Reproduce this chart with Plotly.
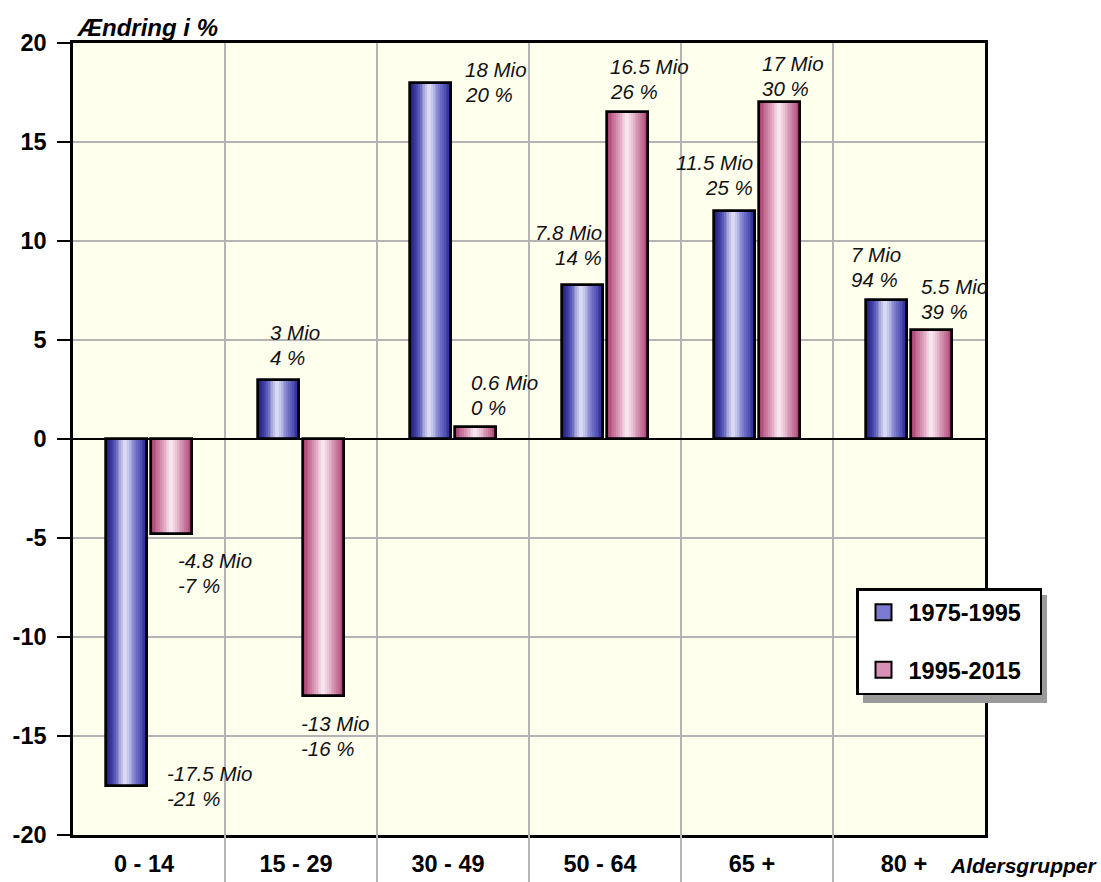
import plotly.graph_objects as go

# ---------------- data ----------------
categories = ["0 - 14", "15 - 29", "30 - 49", "50 - 64", "65 +", "80 +"]
series_names = ["1975-1995", "1995-2015"]
change_1975_1995 = [-17.5, 3, 18, 7.8, 11.5, 7]
change_1995_2015 = [-4.8, -13, 0.6, 16.5, 17, 5.5]
pct_1975_1995 = ["-21 %", "4 %", "20 %", "14 %", "25 %", "94 %"]
pct_1995_2015 = ["-7 %", "-16 %", "0 %", "26 %", "30 %", "39 %"]
y_ticks = [-20, -15, -10, -5, 0, 5, 10, 15, 20]
y_title = "Ændring i %"
x_title = "Aldersgrupper"

values = [change_1975_1995, change_1995_2015]
pcts = [pct_1975_1995, pct_1995_2015]

# ---------------- style ----------------
FONT = "Liberation Sans, Arial, sans-serif"
W, H = 1101, 882
PLOT_L, PLOT_R, PLOT_T, PLOT_B = 73, 985, 43, 835   # target page pixels
ML, MT = PLOT_L, PLOT_T
MR, MB = W - PLOT_R, H - PLOT_B
PW = PLOT_R - PLOT_L
PH = PLOT_B - PLOT_T


def px(xp):
    return (xp - PLOT_L) / PW


def py(yp):
    return (PLOT_B - yp) / PH


BAR_W = 0.268
BAR_OFF = [-0.28, 0.012]
gradients = [
    [(0.0, (26, 26, 120)), (0.18, (76, 76, 176)), (0.45, (228, 228, 248)),
     (0.72, (116, 116, 204)), (1.0, (32, 32, 146))],
    [(0.0, (164, 60, 108)), (0.2, (204, 122, 160)), (0.5, (250, 236, 244)),
     (0.8, (206, 132, 166)), (1.0, (168, 64, 116))],
]
legend_colors = ["#7a7ad0", "#d890b4"]
N_STRIPS = 22
LINE_GAP = 12.5

# per label: (edge of bar, xshift px, yshift px of block centre, xanchor)
label_style = [
    [("r", 18, 0, "left"), ("l", 10, 35, "left"), ("r", 12, 1, "left"),
     ("r", 1, 40, "right"), ("r", 0, 36, "right"), ("l", -17, 33, "left")],
    [("l", 25, -39, "left"), ("l", -4, -40, "left"), ("l", 14, 32, "left"),
     ("l", 1, 33, "left"), ("l", 1, 26, "left"), ("l", 8, 31, "left")],
]


def color_at(stops, t):
    for (t0, c0), (t1, c1) in zip(stops[:-1], stops[1:]):
        if t0 <= t <= t1:
            f = (t - t0) / (t1 - t0)
            c = [round(a + (b - a) * f) for a, b in zip(c0, c1)]
            return "rgb(%d,%d,%d)" % tuple(c)
    return "rgb(%d,%d,%d)" % stops[-1][1]


fig = go.Figure()

# gradient strips
for s in range(2):
    sw = BAR_W / N_STRIPS
    for k in range(N_STRIPS):
        t = (k + 0.5) / N_STRIPS
        w = min(sw * 1.6, BAR_W - k * sw)
        fig.add_trace(go.Bar(
            x=categories, y=values[s], width=w, offset=BAR_OFF[s] + k * sw,
            marker=dict(color=color_at(gradients[s], t), line=dict(width=0)),
            showlegend=False, hoverinfo="skip"))
# outlines
for s in range(2):
    fig.add_trace(go.Bar(
        x=categories, y=values[s], width=BAR_W, offset=BAR_OFF[s],
        marker=dict(color="rgba(0,0,0,0)", line=dict(color="black", width=2.7)),
        showlegend=False, name=series_names[s]))
# legend entries
for s in range(2):
    fig.add_trace(go.Scatter(
        x=[None], y=[None], mode="markers", name=series_names[s] + "\u00a0\u00a0",
        legendgroup=series_names[s],
        marker=dict(symbol="square", size=16, color=legend_colors[s],
                    line=dict(color="black", width=2))))

# value labels (two lines each)
annotations = []
lab_font = dict(family=FONT, size=20.5, style="italic", color="#111")
for s in range(2):
    for i, v in enumerate(values[s]):
        edge, xs, ys, xa = label_style[s][i]
        x = i + BAR_OFF[s] + (BAR_W if edge == "r" else 0)
        for txt, dy in ((f"{v:g} Mio", LINE_GAP), (pcts[s][i], -LINE_GAP)):
            annotations.append(dict(
                x=x, y=v, xref="x", yref="y", text=txt,
                showarrow=False, xanchor=xa, yanchor="middle", align=xa,
                xshift=xs, yshift=ys + dy, font=lab_font))

annotations.append(dict(
    x=px(74), y=py(27), xref="paper", yref="paper",
    text=y_title, showarrow=False, xanchor="left", yanchor="middle",
    font=dict(family=FONT, size=24, style="italic", weight="bold", color="black")))
annotations.append(dict(
    x=px(948), y=py(865), xref="paper", yref="paper",
    text=x_title, showarrow=False, xanchor="left", yanchor="middle",
    font=dict(family=FONT, size=21, style="italic", weight="bold", color="black")))

shapes = []
# category separators extend below the axis
for i in range(len(categories) - 1):
    shapes.append(dict(type="line", xref="x", yref="paper", x0=i + 0.5, x1=i + 0.5,
                       y0=py(H), y1=0, line=dict(color="#b4b4b4", width=2)))
# legend shadow
lx0, ly0, lx1, ly1 = 863, 595, 1047, 703
shapes.append(dict(type="rect", xref="paper", yref="paper",
                   x0=px(lx0), x1=px(lx1), y0=py(ly1), y1=py(ly0),
                   fillcolor="#9a9a9a", line=dict(width=0), layer="above"))

fig.update_layout(
    width=W, height=H,
    margin=dict(l=ML, r=MR, t=MT, b=MB, pad=0, autoexpand=False),
    paper_bgcolor="white", plot_bgcolor="#FFFFEE",
    barmode="overlay", bargap=0,
    font=dict(family=FONT, color="black"),
    showlegend=True,
    legend=dict(x=px(856), y=py(588), xanchor="left", yanchor="top",
                bgcolor="white", bordercolor="black", borderwidth=2.5,
                font=dict(family=FONT, size=23.5, weight="bold", color="black"),
                tracegroupgap=24, itemwidth=40),
    annotations=annotations, shapes=shapes,
)
fig.update_xaxes(
    type="category", range=[-0.5, len(categories) - 0.5], automargin=False,
    tickson="boundaries", showgrid=True, gridcolor="#b4b4b4", gridwidth=2,
    ticks="", showline=True, mirror=True, linecolor="black", linewidth=2.5,
    tickfont=dict(family=FONT, size=23.5, weight="bold", color="black"),
    ticklabelstandoff=6, ticklabelshift=-5)
fig.update_yaxes(
    range=[-20, 20], tickvals=y_ticks, ticktext=[str(t) for t in y_ticks], automargin=False,
    showgrid=True, gridcolor="#b4b4b4", gridwidth=2,
    zeroline=True, zerolinecolor="black", zerolinewidth=2,
    ticks="outside", ticklen=13, tickwidth=2, tickcolor="black",
    showline=True, mirror=True, linecolor="black", linewidth=2.5,
    tickfont=dict(family=FONT, size=23.5, weight="bold", color="black"),
    ticklabelstandoff=6)

fig.write_html(
    "out.html",
    config={"displayModeBar": False},
    post_script="document.body.style.margin='0';document.body.style.overflow='hidden';")
